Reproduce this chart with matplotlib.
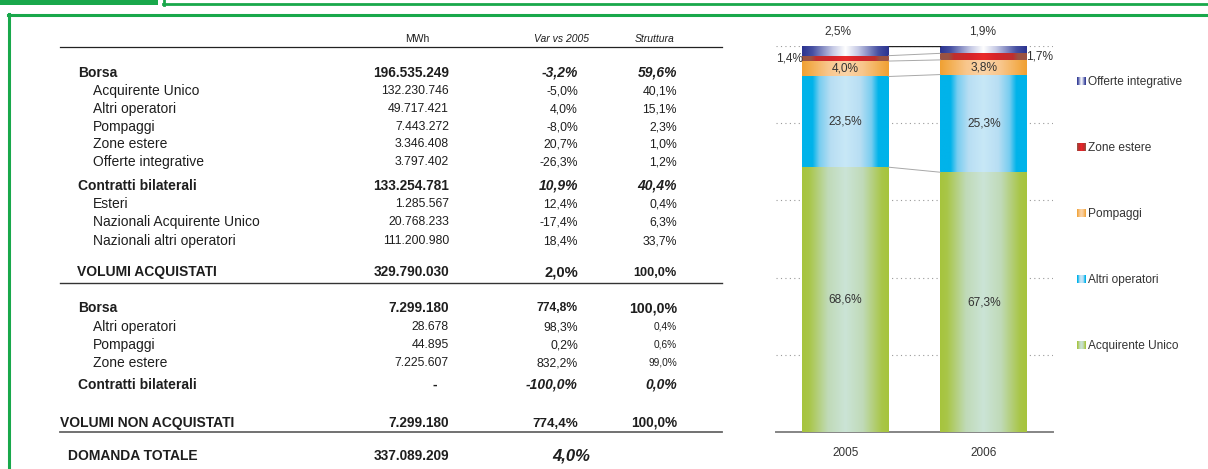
import numpy as np
import matplotlib
matplotlib.use('Agg')
import matplotlib.pyplot as plt
from matplotlib.colors import LinearSegmentedColormap
from matplotlib.patches import Rectangle
from matplotlib.lines import Line2D

plt.rcParams['font.family'] = ['Liberation Sans', 'DejaVu Sans']

# ---------------- data ----------------
years = ['2005', '2006']
series_names = ['Acquirente Unico', 'Altri operatori', 'Pompaggi',
                'Zone estere', 'Offerte integrative']
acquirente_unico = [68.6, 67.3]
altri_operatori = [23.5, 25.3]
pompaggi = [4.0, 3.8]
zone_estere = [1.4, 1.7]
offerte_integrative = [2.5, 1.9]

table_header = ['MWh', 'Var vs 2005', 'Struttura']
row_labels = ['Borsa', 'Acquirente Unico', 'Altri operatori', 'Pompaggi',
              'Zone estere', 'Offerte integrative', 'Contratti bilaterali',
              'Esteri', 'Nazionali Acquirente Unico', 'Nazionali altri operatori',
              'VOLUMI ACQUISTATI', 'Borsa', 'Altri operatori', 'Pompaggi',
              'Zone estere', 'Contratti bilaterali', 'VOLUMI NON ACQUISTATI',
              'DOMANDA TOTALE']
mwh = ['196.535.249', '132.230.746', '49.717.421', '7.443.272', '3.346.408',
       '3.797.402', '133.254.781', '1.285.567', '20.768.233', '111.200.980',
       '329.790.030', '7.299.180', '28.678', '44.895', '7.225.607', '-',
       '7.299.180', '337.089.209']
var_2005 = ['-3,2%', '-5,0%', '4,0%', '-8,0%', '20,7%', '-26,3%', '10,9%',
            '12,4%', '-17,4%', '18,4%', '2,0%', '774,8%', '98,3%', '0,2%',
            '832,2%', '-100,0%', '774,4%', '4,0%']
struttura = ['59,6%', '40,1%', '15,1%', '2,3%', '1,0%', '1,2%', '40,4%',
             '0,4%', '6,3%', '33,7%', '100,0%', '100,0%', '0,4%', '0,6%',
             '99,0%', '0,0%', '100,0%', '']

# ---------------- layout / styles ----------------
W, H = 1208, 469
GREEN = '#19A84B'
TXT = '#1E1E1E'
LBL = '#333333'

# per-row style: (label_x, label_bold, mwh_size, mwh_bold, var_size, var_bold, var_italic,
#                 var_right, str_size, str_bold, str_italic)
S_SUB = (93, False, 8.8, False, 8.8, False, False, 578, 8.8, False, False)
S_GRP = (78, True, 9.8, True, 10.0, True, True, 578, 10.0, True, True)
S_TOT = (77, True, 9.8, True, 10.7, True, False, 578, 9.1, True, False)
S_GRP2 = (78, True, 9.8, True, 8.7, True, False, 578, 10.2, True, False)
S_SUB2 = (93, False, 8.8, False, 8.8, False, False, 578, 7.3, False, False)
S_TOT2 = (60, True, 9.8, True, 9.6, True, False, 578, 9.8, True, False)
S_DOM = (68, True, 9.8, True, 12.0, True, True, 590, 9.8, True, False)
row_styles = [S_GRP, S_SUB, S_SUB, S_SUB, S_SUB, S_SUB, S_GRP, S_SUB, S_SUB, S_SUB,
              S_TOT, S_GRP2, S_SUB2, S_SUB2, S_SUB2, S_GRP, S_TOT2, S_DOM]
row_y = [72, 90, 108, 126, 143, 161, 185, 203, 221, 240, 271, 307, 326, 344, 362,
         384, 422, 455]

fig = plt.figure(figsize=(W / 100, H / 100), dpi=100)
over = fig.add_axes([0, 0, 1, 1])
over.set_xlim(0, W)
over.set_ylim(H, 0)
over.axis('off')


def txt(x, yc, s, size, ha='left', bold=False, italic=False, color=TXT):
    px = size * 100 / 72.0
    over.text(x, yc + 0.358 * px, s, fontsize=size, ha=ha, va='baseline',
              fontweight='bold' if bold else 'normal',
              fontstyle='italic' if italic else 'normal', color=color)


# green frames
over.add_patch(Rectangle((0, 0), 158, 5, color=GREEN, lw=0))
over.add_line(Line2D([163.5, 163.5], [0, 5], color=GREEN, lw=2.0))
over.add_line(Line2D([162.5, W], [4, 4], color=GREEN, lw=2.0))
over.add_line(Line2D([8, W], [15, 15], color=GREEN, lw=2.2))
over.add_line(Line2D([9, 9], [14, H], color=GREEN, lw=2.2))

# table header
txt(417, 38, table_header[0], 7.5, ha='center')
txt(562, 38, table_header[1], 7.5, ha='center', italic=True)
txt(655, 38, table_header[2], 7.5, ha='center', italic=True)

# horizontal rules
over.add_line(Line2D([60, 722], [47, 47], color='#222222', lw=0.9))
over.add_line(Line2D([60, 722], [283, 283], color='#333333', lw=1.0))
over.add_line(Line2D([60, 722], [432, 432], color='#666666', lw=1.3))

for lab, m, v, s, st, y in zip(row_labels, mwh, var_2005, struttura, row_styles, row_y):
    lx, lb, ms, mb, vs, vb, vi, vr, ss, sb, si = st
    txt(lx, y, lab, 10.0, bold=lb)
    txt(449 if m != '-' else 437, y, m, ms, ha='right', bold=mb)
    txt(vr, y, v, vs, ha='right', bold=vb, italic=vi)
    if s:
        txt(677, y, s, ss, ha='right', bold=sb, italic=si)

# ---------------- stacked bar chart ----------------
ax = fig.add_axes([776 / W, (H - 432) / H, (1053 - 776) / W, (432 - 46) / H])
ax.set_facecolor('none')


def sym_cmap(name, half):
    stops = list(half) + [(1 - p, c) for p, c in reversed(half) if p < 0.5]
    return LinearSegmentedColormap.from_list(name, stops)


cmaps = [
    sym_cmap('g', [(0, '#A6C43C'), (0.08, '#A9C648'), (0.3, '#C0DAB8'), (0.5, '#CBE4D6')]),
    sym_cmap('c', [(0, '#00B3EA'), (0.12, '#00B3EA'), (0.2, '#78CDF0'), (0.33, '#B8DEF3'), (0.5, '#C8E8F7')]),
    sym_cmap('o', [(0, '#F0A032'), (0.1, '#F3AD4E'), (0.3, '#F8C68C'), (0.5, '#FBD4A8')]),
    sym_cmap('r', [(0, '#9A5242'), (0.1, '#9A5242'), (0.16, '#BE2F2E'), (0.35, '#D6242A'), (0.5, '#EA2A2A')]),
    sym_cmap('b', [(0, '#2B3390'), (0.12, '#4650A2'), (0.35, '#C4C8E4'), (0.5, '#FFFFFF')]),
]
legend_mid = ['#A9C648', '#00B3EA', '#F3AD4E', '#C8262A', '#2B3390']

series_vals = [acquirente_unico, altri_operatori, pompaggi, zone_estere, offerte_integrative]
x = np.arange(len(years))
bw = 0.628
bottom = np.zeros(len(years))
tops = []
grad = np.linspace(0, 1, 256)[None, :]
for vals, cm in zip(series_vals, cmaps):
    bars = ax.bar(x, vals, bw, bottom=bottom, color='none', lw=0, zorder=3)
    for p in bars:
        im = ax.imshow(grad, cmap=cm, aspect='auto', interpolation='bilinear',
                       extent=[p.get_x(), p.get_x() + p.get_width(),
                               p.get_y(), p.get_y() + p.get_height()], zorder=3)
        im.set_clip_path(p)
    bottom = bottom + np.array(vals)
    tops.append(bottom.copy())

ax.set_xlim(-0.5, 1.5)
ax.set_ylim(0, 100)

# connector lines between the bars
for i, t in enumerate(tops):
    ax.plot([x[0] + bw / 2, x[1] - bw / 2], [t[0], t[1]],
            color='#222222' if i == len(tops) - 1 else '#A8A8A8',
            lw=1.0 if i == len(tops) - 1 else 0.7, zorder=4)

# labels
cum_bottom = np.zeros(len(years))
for k, vals in enumerate(series_vals):
    for j, v in enumerate(vals):
        lab = f'{v:.1f}%'.replace('.', ',')
        yc = cum_bottom[j] + v / 2
        if k <= 2:
            ax.text(x[j], yc, lab, ha='center', va='center', fontsize=8.6, color=LBL, zorder=5)
        elif k == 3:
            if j == 0:
                ax.annotate(lab, (x[j] - bw / 2, yc), xytext=(1, 0), textcoords='offset points',
                            ha='right', va='center', fontsize=8.6, color=LBL)
            else:
                ax.annotate(lab, (x[j] + bw / 2, yc), xytext=(-1, 0), textcoords='offset points',
                            ha='left', va='center', fontsize=8.6, color=LBL)
        else:
            ax.annotate(lab, (x[j], cum_bottom[j] + v), xytext=(-5 if j == 0 else -1, 6),
                        textcoords='offset points', ha='center', va='bottom',
                        fontsize=8.6, color=LBL)
    cum_bottom = cum_bottom + np.array(vals)

ax.set_yticks([20, 40, 60, 80, 100])
ax.yaxis.grid(True, linestyle=(0, (1, 3)), color='#9A9A9A', lw=0.8)
ax.set_axisbelow(True)
ax.tick_params(axis='y', length=0, labelleft=False)
ax.set_xticks(x)
ax.set_xticklabels(years, fontsize=8.5, color=LBL)
ax.tick_params(axis='x', length=0, pad=11)
for sp in ['left', 'right', 'top']:
    ax.spines[sp].set_visible(False)
ax.spines['bottom'].set_color('#858585')
ax.spines['bottom'].set_linewidth(1.4)

# legend (manual, top to bottom)
leg_y = [81, 147, 213, 279, 345]
for name, cm, y in zip(reversed(series_names), reversed(cmaps), leg_y):
    over.imshow(grad, cmap=cm, aspect='auto', interpolation='bilinear',
                extent=[1077, 1086, y + 4, y - 4], zorder=3)
    txt(1088, y, name, 8.6, color=LBL)
over.set_xlim(0, W)
over.set_ylim(H, 0)

fig.savefig('out.png', dpi=100)
